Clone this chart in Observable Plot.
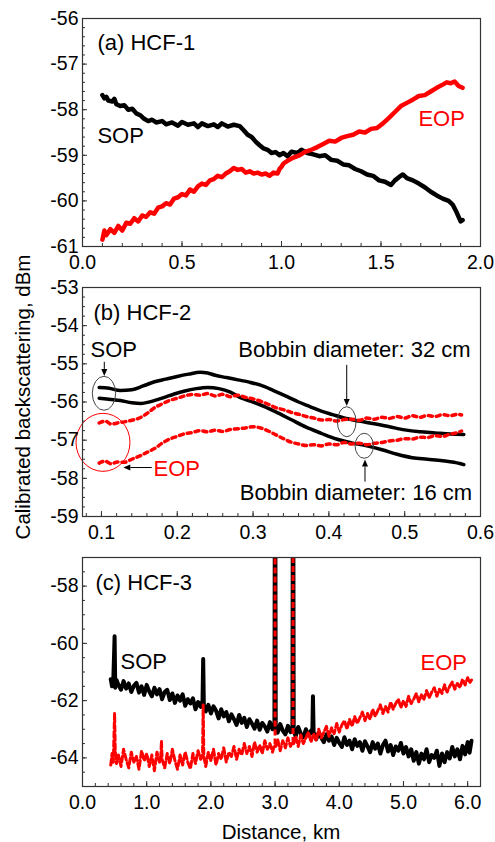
<!DOCTYPE html>
<html><head><meta charset="utf-8">
<script src="https://cdn.jsdelivr.net/npm/d3@7"></script>
<script src="https://cdn.jsdelivr.net/npm/@observablehq/plot@0.6"></script>
<style>
body{margin:0;background:#fff;}
#wrap{position:relative;width:495px;height:842px;font-family:"Liberation Sans",Arial,Helvetica,sans-serif;}
.panel{position:absolute;left:0;}
#titles{position:absolute;left:0;top:0;pointer-events:none;}
</style></head><body><div id="wrap"></div>
<script>
// ---------- Panel (a) HCF-1 ----------
const aSOP = [[0.10,-57.68],[0.11,-57.75],[0.12,-57.72],[0.13,-57.80],[0.15,-57.82],[0.16,-57.76],[0.17,-57.88],[0.19,-57.92],[0.21,-57.90],[0.23,-58.00],[0.25,-57.98],[0.27,-58.08],[0.29,-58.12],[0.31,-58.20],[0.33,-58.25],[0.35,-58.22],[0.37,-58.28],[0.40,-58.25],[0.42,-58.32],[0.45,-58.28],[0.48,-58.35],[0.50,-58.27],[0.53,-58.33],[0.56,-58.30],[0.58,-58.38],[0.60,-58.30],[0.63,-58.36],[0.66,-58.32],[0.68,-58.38],[0.70,-58.30],[0.73,-58.37],[0.76,-58.33],[0.79,-58.36],[0.81,-58.45],[0.83,-58.55],[0.85,-58.60],[0.87,-58.70],[0.89,-58.78],[0.91,-58.85],[0.93,-58.88],[0.95,-58.95],[0.97,-58.93],[0.99,-59.00],[1.01,-58.95],[1.03,-59.02],[1.05,-58.92],[1.08,-58.95],[1.10,-58.88],[1.13,-58.95],[1.16,-58.98],[1.19,-59.02],[1.22,-59.00],[1.25,-59.10],[1.28,-59.12],[1.31,-59.20],[1.34,-59.22],[1.37,-59.30],[1.40,-59.35],[1.43,-59.42],[1.46,-59.45],[1.49,-59.55],[1.52,-59.58],[1.55,-59.65],[1.57,-59.55],[1.59,-59.48],[1.61,-59.42],[1.63,-59.50],[1.66,-59.55],[1.69,-59.62],[1.72,-59.70],[1.75,-59.80],[1.78,-59.88],[1.81,-59.95],[1.84,-60.00],[1.86,-60.08],[1.88,-60.25],[1.89,-60.35],[1.90,-60.45],[1.91,-60.42]];
const aEOP = [[0.10,-60.85],[0.11,-60.65],[0.12,-60.75],[0.14,-60.62],[0.16,-60.70],[0.18,-60.55],[0.20,-60.65],[0.22,-60.48],[0.24,-60.50],[0.26,-60.38],[0.28,-60.45],[0.30,-60.32],[0.32,-60.35],[0.34,-60.25],[0.36,-60.28],[0.38,-60.15],[0.40,-60.12],[0.42,-60.05],[0.44,-60.08],[0.46,-59.95],[0.48,-59.92],[0.50,-59.85],[0.52,-59.88],[0.54,-59.75],[0.56,-59.80],[0.58,-59.68],[0.60,-59.62],[0.62,-59.65],[0.64,-59.55],[0.66,-59.52],[0.68,-59.45],[0.70,-59.48],[0.72,-59.40],[0.74,-59.35],[0.76,-59.28],[0.78,-59.32],[0.80,-59.30],[0.82,-59.38],[0.84,-59.35],[0.86,-59.40],[0.88,-59.38],[0.90,-59.42],[0.92,-59.40],[0.94,-59.45],[0.96,-59.38],[0.98,-59.40],[0.99,-59.30],[1.00,-59.25],[1.01,-59.18],[1.03,-59.12],[1.06,-59.05],[1.09,-59.00],[1.12,-58.92],[1.15,-58.88],[1.18,-58.82],[1.21,-58.75],[1.24,-58.68],[1.27,-58.70],[1.30,-58.62],[1.33,-58.58],[1.36,-58.55],[1.39,-58.48],[1.42,-58.50],[1.45,-58.42],[1.48,-58.40],[1.51,-58.30],[1.54,-58.18],[1.57,-58.05],[1.60,-57.92],[1.63,-57.85],[1.66,-57.78],[1.69,-57.70],[1.72,-57.68],[1.75,-57.60],[1.78,-57.52],[1.81,-57.45],[1.83,-57.40],[1.85,-57.42],[1.87,-57.38],[1.89,-57.48],[1.91,-57.52]];

// ---------- Panel (b) HCF-2 ----------
const bSOP32 = [[0.097,-55.62],[0.11,-55.64],[0.125,-55.70],[0.14,-55.68],[0.155,-55.58],[0.17,-55.47],[0.185,-55.40],[0.20,-55.33],[0.215,-55.27],[0.23,-55.22],[0.24,-55.24],[0.25,-55.30],[0.265,-55.36],[0.28,-55.42],[0.295,-55.48],[0.31,-55.56],[0.327,-55.70],[0.345,-55.86],[0.36,-56.00],[0.375,-56.12],[0.39,-56.24],[0.405,-56.33],[0.42,-56.42],[0.44,-56.50],[0.46,-56.57],[0.48,-56.65],[0.50,-56.73],[0.52,-56.78],[0.54,-56.81],[0.56,-56.84],[0.578,-56.85]];
const bSOP16 = [[0.097,-55.90],[0.11,-55.93],[0.125,-55.96],[0.14,-56.02],[0.152,-56.04],[0.165,-55.99],[0.18,-55.90],[0.196,-55.79],[0.21,-55.71],[0.225,-55.65],[0.24,-55.62],[0.255,-55.65],[0.27,-55.74],[0.285,-55.90],[0.30,-56.00],[0.315,-56.12],[0.33,-56.26],[0.35,-56.46],[0.37,-56.66],[0.39,-56.82],[0.41,-56.97],[0.43,-57.07],[0.45,-57.15],[0.47,-57.25],[0.49,-57.37],[0.51,-57.46],[0.53,-57.50],[0.55,-57.54],[0.565,-57.58],[0.578,-57.64]];
const bEOP32 = [[0.097,-56.55],[0.105,-56.50],[0.113,-56.58],[0.121,-56.55],[0.13,-56.52],[0.14,-56.48],[0.15,-56.42],[0.16,-56.30],[0.17,-56.15],[0.18,-56.05],[0.19,-55.96],[0.20,-55.90],[0.21,-55.84],[0.22,-55.80],[0.23,-55.82],[0.24,-55.78],[0.25,-55.84],[0.26,-55.80],[0.27,-55.86],[0.28,-55.82],[0.29,-55.88],[0.30,-55.92],[0.31,-55.98],[0.32,-56.06],[0.33,-56.15],[0.34,-56.20],[0.35,-56.27],[0.36,-56.32],[0.37,-56.38],[0.38,-56.42],[0.39,-56.47],[0.40,-56.46],[0.41,-56.50],[0.42,-56.46],[0.43,-56.45],[0.44,-56.48],[0.45,-56.42],[0.46,-56.45],[0.47,-56.40],[0.48,-56.43],[0.49,-56.38],[0.50,-56.42],[0.51,-56.36],[0.52,-56.40],[0.53,-56.35],[0.54,-56.38],[0.55,-56.33],[0.56,-56.36],[0.57,-56.32],[0.575,-56.34]];
const bEOP16 = [[0.097,-57.60],[0.105,-57.55],[0.113,-57.62],[0.121,-57.57],[0.13,-57.58],[0.14,-57.50],[0.15,-57.42],[0.16,-57.32],[0.17,-57.22],[0.18,-57.08],[0.19,-56.97],[0.20,-56.90],[0.21,-56.83],[0.22,-56.80],[0.23,-56.75],[0.24,-56.78],[0.25,-56.74],[0.26,-56.77],[0.27,-56.72],[0.28,-56.70],[0.29,-56.68],[0.30,-56.65],[0.31,-56.68],[0.32,-56.76],[0.33,-56.86],[0.34,-56.96],[0.35,-57.05],[0.36,-57.10],[0.37,-57.14],[0.38,-57.12],[0.39,-57.15],[0.40,-57.10],[0.41,-57.12],[0.42,-57.06],[0.43,-57.10],[0.44,-57.08],[0.45,-57.12],[0.46,-57.08],[0.47,-57.06],[0.48,-57.02],[0.49,-57.00],[0.50,-56.96],[0.51,-56.97],[0.52,-56.92],[0.53,-56.93],[0.54,-56.88],[0.55,-56.90],[0.56,-56.84],[0.57,-56.80],[0.575,-56.76]];

// ---------- Panel (c) HCF-3 ----------
const cSOP = [[0.44,-61.25],[0.46,-61.50],[0.48,-61.30],[0.50,-59.75],[0.51,-61.55],[0.53,-61.28],[0.56,-61.45],[0.60,-61.62],[0.64,-61.32],[0.68,-61.58],[0.72,-61.40],[0.76,-61.70],[0.80,-61.48],[0.84,-61.38],[0.88,-61.72],[0.92,-61.50],[0.96,-61.80],[1.00,-61.45],[1.04,-61.68],[1.08,-61.85],[1.12,-61.55],[1.16,-61.78],[1.20,-61.60],[1.24,-61.95],[1.28,-61.70],[1.32,-61.62],[1.36,-61.98],[1.40,-61.75],[1.44,-62.08],[1.48,-61.82],[1.52,-62.00],[1.56,-61.78],[1.60,-62.18],[1.64,-61.95],[1.68,-62.10],[1.72,-61.92],[1.76,-62.30],[1.80,-62.05],[1.84,-62.22],[1.87,-62.00],[1.88,-60.55],[1.89,-62.15],[1.92,-62.38],[1.96,-62.15],[2.00,-62.45],[2.04,-62.20],[2.08,-62.35],[2.12,-62.62],[2.16,-62.30],[2.20,-62.55],[2.24,-62.40],[2.28,-62.72],[2.32,-62.48],[2.36,-62.65],[2.40,-62.85],[2.44,-62.50],[2.48,-62.78],[2.52,-62.60],[2.56,-62.92],[2.60,-62.65],[2.64,-62.80],[2.68,-62.98],[2.72,-62.70],[2.76,-63.02],[2.80,-62.78],[2.84,-62.90],[2.88,-63.08],[2.92,-62.75],[2.96,-63.00],[2.99,-62.85],[3.00,-50],[3.01,-62.95],[3.04,-63.12],[3.08,-62.82],[3.12,-63.05],[3.16,-63.18],[3.20,-62.88],[3.24,-63.10],[3.27,-62.95],[3.28,-50],[3.29,-63.05],[3.32,-63.25],[3.36,-62.92],[3.40,-63.15],[3.44,-63.28],[3.48,-63.00],[3.52,-63.22],[3.56,-63.05],[3.58,-63.15],[3.59,-61.85],[3.60,-63.10],[3.64,-63.35],[3.68,-63.12],[3.72,-63.30],[3.76,-63.45],[3.80,-63.18],[3.84,-63.40],[3.88,-63.25],[3.92,-63.55],[3.96,-63.30],[4.00,-63.48],[4.04,-63.62],[4.08,-63.28],[4.12,-63.55],[4.16,-63.40],[4.20,-63.70],[4.24,-63.35],[4.28,-63.58],[4.32,-63.45],[4.36,-63.75],[4.40,-63.42],[4.44,-63.60],[4.48,-63.80],[4.52,-63.45],[4.56,-63.68],[4.60,-63.50],[4.64,-63.85],[4.68,-63.55],[4.72,-63.40],[4.76,-63.78],[4.80,-63.55],[4.84,-63.90],[4.88,-63.60],[4.92,-63.75],[4.96,-63.48],[5.00,-63.85],[5.04,-63.62],[5.08,-63.95],[5.12,-63.70],[5.16,-64.10],[5.20,-63.80],[5.24,-64.20],[5.28,-63.85],[5.32,-64.05],[5.36,-63.70],[5.40,-64.15],[5.44,-63.90],[5.48,-64.00],[5.52,-63.75],[5.56,-64.28],[5.60,-63.85],[5.64,-64.15],[5.68,-63.80],[5.72,-64.02],[5.76,-63.62],[5.80,-63.95],[5.84,-63.70],[5.88,-64.05],[5.92,-63.58],[5.96,-63.88],[6.00,-63.45],[6.03,-63.82],[6.06,-63.40]];
const cEOP = [[0.44,-64.25],[0.46,-63.85],[0.48,-64.15],[0.50,-62.45],[0.51,-63.75],[0.53,-64.20],[0.56,-63.90],[0.60,-64.30],[0.64,-63.70],[0.68,-64.05],[0.72,-64.35],[0.76,-63.80],[0.80,-64.15],[0.84,-63.95],[0.88,-64.40],[0.92,-63.75],[0.96,-64.10],[1.00,-63.85],[1.04,-64.30],[1.08,-63.90],[1.12,-64.45],[1.16,-63.80],[1.20,-64.15],[1.22,-63.95],[1.23,-63.40],[1.24,-64.05],[1.28,-64.35],[1.32,-63.85],[1.36,-64.20],[1.40,-63.70],[1.44,-64.10],[1.48,-64.40],[1.52,-63.90],[1.56,-64.25],[1.60,-63.80],[1.64,-64.15],[1.68,-64.38],[1.72,-63.85],[1.76,-64.20],[1.80,-63.75],[1.84,-64.05],[1.87,-63.90],[1.88,-62.15],[1.89,-63.95],[1.92,-64.30],[1.96,-63.80],[2.00,-64.10],[2.04,-63.70],[2.08,-64.25],[2.12,-63.85],[2.16,-64.05],[2.20,-63.65],[2.24,-64.15],[2.28,-63.80],[2.32,-63.95],[2.36,-63.60],[2.40,-64.05],[2.44,-63.70],[2.48,-63.90],[2.52,-63.50],[2.56,-63.85],[2.60,-63.60],[2.64,-63.95],[2.68,-63.45],[2.72,-63.80],[2.76,-63.55],[2.80,-63.85],[2.84,-63.40],[2.88,-63.70],[2.92,-63.50],[2.96,-63.80],[2.99,-63.55],[3.01,-63.60],[3.04,-63.35],[3.08,-63.75],[3.12,-63.40],[3.16,-63.65],[3.20,-63.30],[3.24,-63.60],[3.27,-63.45],[3.29,-63.50],[3.32,-63.25],[3.36,-63.60],[3.40,-63.20],[3.44,-63.50],[3.48,-63.30],[3.52,-63.10],[3.56,-63.45],[3.60,-63.15],[3.64,-63.40],[3.68,-63.00],[3.72,-63.30],[3.76,-63.10],[3.80,-62.90],[3.84,-63.25],[3.88,-62.95],[3.92,-63.15],[3.96,-62.80],[4.00,-63.10],[4.04,-62.85],[4.08,-62.70],[4.12,-63.00],[4.16,-62.65],[4.20,-62.90],[4.24,-62.55],[4.28,-62.80],[4.32,-62.60],[4.36,-62.40],[4.40,-62.70],[4.44,-62.45],[4.48,-62.65],[4.52,-62.30],[4.56,-62.55],[4.60,-62.35],[4.64,-62.15],[4.68,-62.45],[4.72,-62.20],[4.76,-62.40],[4.80,-62.05],[4.84,-62.30],[4.88,-62.10],[4.92,-61.95],[4.96,-62.25],[5.00,-62.00],[5.04,-62.20],[5.08,-61.85],[5.12,-62.10],[5.16,-61.95],[5.20,-61.75],[5.24,-62.05],[5.28,-61.80],[5.32,-61.95],[5.36,-61.65],[5.40,-61.90],[5.44,-61.70],[5.48,-61.55],[5.52,-61.85],[5.56,-61.60],[5.60,-61.75],[5.64,-61.45],[5.68,-61.70],[5.72,-61.50],[5.76,-61.35],[5.80,-61.60],[5.84,-61.40],[5.88,-61.55],[5.92,-61.25],[5.96,-61.45],[6.00,-61.20],[6.03,-61.38],[6.06,-61.28]];
// large EOP reflections (spikes running off the top of panel c)
const cEOPSpikes = [{x: 3.00, base: -63.55, peak: -50}, {x: 3.28, base: -63.50, peak: -50}];

// ---------- tick values ----------
const aXTicks = [0, 0.5, 1.0, 1.5, 2.0];
const aYTicks = [-61, -60, -59, -58, -57, -56];
const bXTicks = [0.1, 0.2, 0.3, 0.4, 0.5, 0.6];
const bYTicks = [-59, -58, -57, -56, -55, -54, -53];
const cXTicks = [0, 1, 2, 3, 4, 5, 6];
const cYTicks = [-64, -62, -60, -58];

// ---------- annotations (data coordinates) ----------
const aLabels = [
  {x: 0.075, y: -56.70, text: "(a) HCF-1", color: "#000", anchor: "start"},
  {x: 0.075, y: -58.74, text: "SOP", color: "#000", anchor: "start"},
  {x: 1.688, y: -58.35, text: "EOP", color: "#ff0000", anchor: "start"}
];
const bLabels = [
  {x: 0.0895, y: -53.86, text: "(b) HCF-2", color: "#000", anchor: "start"},
  {x: 0.0856, y: -54.81, text: "SOP", color: "#000", anchor: "start"},
  {x: 0.1687, y: -57.93, text: "EOP", color: "#ff0000", anchor: "start"},
  {x: 0.587, y: -54.83, text: "Bobbin diameter: 32 cm", color: "#000", anchor: "end"},
  {x: 0.589, y: -58.58, text: "Bobbin diameter: 16 cm", color: "#000", anchor: "end"}
];
const bEllipses = [
  {x: 0.104, y: -55.785, rx: 0.0154, ry: 0.445, color: "#444"},
  {x: 0.1027, y: -57.07, rx: 0.0356, ry: 0.76, color: "#ff0000"},
  {x: 0.4242, y: -56.53, rx: 0.0123, ry: 0.393, color: "#444"},
  {x: 0.4473, y: -57.16, rx: 0.0121, ry: 0.327, color: "#444"}
];
const bArrows = [
  {x1: 0.1044, y1: -54.96, x2: 0.1044, y2: -55.33},
  {x1: 0.167, y1: -57.73, x2: 0.1295, y2: -57.73},
  {x1: 0.4242, y1: -55.04, x2: 0.4242, y2: -56.12},
  {x1: 0.4483, y1: -58.10, x2: 0.4483, y2: -57.52}
];
const cLabels = [
  {x: 0.2025, y: -58.15, text: "(c) HCF-3", color: "#000", anchor: "start"},
  {x: 0.592, y: -60.89, text: "SOP", color: "#000", anchor: "start"},
  {x: 5.265, y: -60.92, text: "EOP", color: "#ff0000", anchor: "start"}
];

const FONT = '"Liberation Sans", Arial, Helvetica, sans-serif';
const AX = "#333";
const fmt1 = d => d.toFixed(1);
const fmtInt = d => (d < 0 ? "-" : "") + Math.abs(d);

function labelMarks(labels) {
  return labels.map(l => Plot.text([l], {x: "x", y: "y", text: "text", fill: l.color,
    textAnchor: l.anchor, lineAnchor: "bottom", fontSize: 22}));
}

function annotMark(ellipses, arrows) {
  return (index, scales) => {
    const {x, y} = scales;
    const g = d3.create("svg:g");
    for (const e of ellipses) {
      g.append("ellipse")
        .attr("cx", x(e.x)).attr("cy", y(e.y))
        .attr("rx", Math.abs(x(e.x + e.rx) - x(e.x)))
        .attr("ry", Math.abs(y(e.y + e.ry) - y(e.y)))
        .attr("fill", "none").attr("stroke", e.color).attr("stroke-width", 1);
    }
    for (const a of arrows) {
      const x1 = x(a.x1), y1 = y(a.y1), x2 = x(a.x2), y2 = y(a.y2);
      const ang = Math.atan2(y2 - y1, x2 - x1), L = 7, W = 3;
      const bx = x2 - L * Math.cos(ang), by = y2 - L * Math.sin(ang);
      g.append("line").attr("x1", x1).attr("y1", y1).attr("x2", bx).attr("y2", by)
        .attr("stroke", "#000").attr("stroke-width", 1);
      g.append("path").attr("d",
        `M${x2},${y2}L${bx - W * Math.sin(ang)},${by + W * Math.cos(ang)}L${bx + W * Math.sin(ang)},${by - W * Math.cos(ang)}Z`)
        .attr("fill", "#000");
    }
    return g.node();
  };
}

function panel(top, marginTop, cfg) {
  const p = Plot.plot({
    width: 495, height: 270,
    marginTop, marginBottom: 24, marginLeft: 82, marginRight: 15,
    x: {domain: cfg.xDomain},
    y: {domain: cfg.yDomain},
    style: {fontFamily: FONT, fontSize: "19.5px", color: "#000", background: "transparent", overflow: "visible"},
    marks: [
      ...cfg.marks,
      Plot.frame({stroke: AX, strokeWidth: 1.2}),
      Plot.axisX(cfg.xMinor, {tickSize: -3, fill: "none", stroke: AX, label: null}),
      Plot.axisX(cfg.xTicks, {tickSize: -5, fill: "none", stroke: AX, label: null}),
      Plot.axisX(cfg.xTicks, {tickSize: 0, tickPadding: 9, tickFormat: cfg.xFmt, label: null, fill: "#000"}),
      Plot.axisY(cfg.yMinor, {tickSize: -3, fill: "none", stroke: AX, label: null}),
      Plot.axisY(cfg.yTicks, {tickSize: -5, fill: "none", stroke: AX, label: null}),
      Plot.axisY(cfg.yTicks, {tickSize: 0, tickPadding: 4, tickFormat: fmtInt, label: null, fill: "#000"})
    ]
  });
  p.classList.add("panel");
  p.style.top = top + "px";
  document.getElementById("wrap").appendChild(p);
}

const xy = {x: d => d[0], y: d => d[1]};

panel(0, 18, {
  xDomain: [0, 2], yDomain: [-61, -56],
  xTicks: aXTicks, yTicks: aYTicks, xFmt: fmt1,
  xMinor: d3.range(0, 2.0001, 0.1), yMinor: d3.range(-61, -55.999, 0.2),
  marks: [
    Plot.line(aSOP, {...xy, stroke: "#000", strokeWidth: 4.5, strokeLinejoin: "round"}),
    Plot.line(aEOP, {...xy, stroke: "#ff0000", strokeWidth: 4.5, strokeLinejoin: "round"}),
    ...labelMarks(aLabels)
  ]
});

panel(270, 17, {
  xDomain: [0.075, 0.6], yDomain: [-59, -53],
  xTicks: bXTicks, yTicks: bYTicks, xFmt: fmt1,
  xMinor: d3.range(0.08, 0.6001, 0.02), yMinor: d3.range(-59, -52.999, 0.25),
  marks: [
    Plot.line(bSOP32, {...xy, stroke: "#000", strokeWidth: 3.5, curve: "monotone-x"}),
    Plot.line(bSOP16, {...xy, stroke: "#000", strokeWidth: 3.5, curve: "monotone-x"}),
    Plot.line(bEOP32, {...xy, stroke: "#ff0000", strokeWidth: 3.5, strokeDasharray: "4,4", curve: "monotone-x"}),
    Plot.line(bEOP16, {...xy, stroke: "#ff0000", strokeWidth: 3.5, strokeDasharray: "4,4", curve: "monotone-x"}),
    annotMark(bEllipses, bArrows),
    ...labelMarks(bLabels)
  ]
});

panel(540, 17, {
  xDomain: [0, 6.2], yDomain: [-65, -57],
  xTicks: cXTicks, yTicks: cYTicks, xFmt: fmt1,
  xMinor: d3.range(0, 6.2001, 0.2), yMinor: d3.range(-65, -56.999, 0.5),
  marks: [
    Plot.line(cSOP, {...xy, stroke: "#000", strokeWidth: 4, clip: true}),
    Plot.line(cEOP, {...xy, stroke: "#ff0000", strokeWidth: 3, strokeDasharray: "6,3", clip: true}),
    Plot.ruleX(cEOPSpikes, {x: "x", y1: "base", y2: "peak", stroke: "#ff0000", strokeWidth: 3, strokeDasharray: "6,3", clip: true}),
    ...labelMarks(cLabels)
  ]
});

// axis titles
const t = d3.select("#wrap").append("svg").attr("id", "titles")
  .attr("width", 495).attr("height", 842)
  .style("font-family", FONT);
t.append("text").attr("transform", "translate(30,397) rotate(-90)")
  .attr("text-anchor", "middle").attr("font-size", 20.5).attr("fill", "#000")
  .text("Calibrated backscattering, dBm");
t.append("text").attr("x", 281).attr("y", 839)
  .attr("text-anchor", "middle").attr("font-size", 20.5).attr("fill", "#000")
  .text("Distance, km");
</script>
</body></html>
